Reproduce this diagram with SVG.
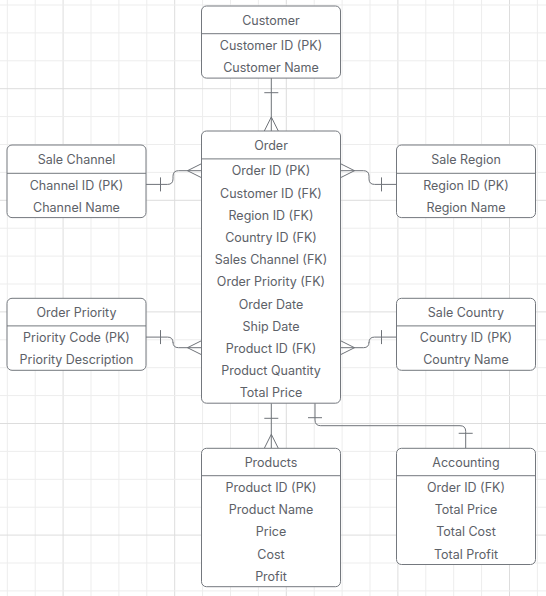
<svg xmlns="http://www.w3.org/2000/svg" width="546" height="596" viewBox="0 0 546 596">
<style>
.gmin{stroke:#ededed;stroke-width:1}
.gmaj{stroke:#dddddd;stroke-width:1}
.box{fill:#ffffff;stroke:#74787e;stroke-width:1}
.div{stroke:#74787e;stroke-width:1}
.t{font-family:"Inter","Liberation Sans",sans-serif;font-size:12.5px;fill:#5d6168;text-anchor:middle}
.c{fill:none;stroke:#6f7379;stroke-width:1}
</style>
<rect width="546" height="596" fill="#ffffff"/>
<g id="grid">
<path class="gmin" d="M7.3,0V596M35.2,0V596M91,0V596M118.9,0V596M146.8,0V596M202.6,0V596M230.5,0V596M258.4,0V596M314.2,0V596M342.1,0V596M370,0V596M425.8,0V596M453.7,0V596M481.6,0V596M537.4,0V596"/>
<path class="gmaj" d="M63.1,0V596M174.7,0V596M286.3,0V596M397.9,0V596M509.5,0V596"/>
<path class="gmin" d="M0,5H546M0,32.9H546M0,60.8H546M0,116.6H546M0,144.5H546M0,172.4H546M0,228.2H546M0,256.1H546M0,284H546M0,339.8H546M0,367.7H546M0,395.6H546M0,451.4H546M0,479.3H546M0,507.2H546M0,563H546M0,590.9H546"/>
<path class="gmaj" d="M0,88.7H546M0,200.3H546M0,311.9H546M0,423.5H546M0,535.1H546"/>
</g>
<g id="connectors">
<path class="c" d="M271.3,78.1V131"/>
<path class="c" d="M264.3,92.7H278.3"/>
<path class="c" d="M264.3,131L271.3,117L278.3,131"/>
<path class="c" d="M146,184.4H167.5Q173,184.4 173,178.9V176.2Q173,170.7 178.5,170.7H201.5"/>
<path class="c" d="M160.5,177.4V191.4"/>
<path class="c" d="M201.5,163.7L187.5,170.7L201.5,177.7"/>
<path class="c" d="M340.5,170.7H363.5Q369,170.7 369,176.2V178.9Q369,184.4 374.5,184.4H396.5"/>
<path class="c" d="M381.5,177.4V191.4"/>
<path class="c" d="M340.5,163.7L354.5,170.7L340.5,177.7"/>
<path class="c" d="M146,337.1H167.5Q173,337.1 173,342.6V342.2Q173,347.7 178.5,347.7H201.5"/>
<path class="c" d="M160.5,330.1V344.1"/>
<path class="c" d="M201.5,340.7L187.5,347.7L201.5,354.7"/>
<path class="c" d="M340.5,347.7H363.5Q369,347.7 369,342.2V342.6Q369,337.1 374.5,337.1H396.5"/>
<path class="c" d="M381.5,330.1V344.1"/>
<path class="c" d="M340.5,340.7L354.5,347.7L340.5,354.7"/>
<path class="c" d="M271.3,403.2V448.3"/>
<path class="c" d="M264.3,418.3H278.3"/>
<path class="c" d="M264.3,448.3L271.3,434.3L278.3,448.3"/>
<path class="c" d="M315,403.2V420Q315,425.7 320.7,425.7H460Q465.7,425.7 465.7,431.4V448.3"/>
<path class="c" d="M308,417.7H322"/>
<path class="c" d="M458.7,433.3H472.7"/>
</g>
<g id="customer">
<rect class="box" x="201.5" y="6" width="139" height="72.1" rx="5"/>
<line class="div" x1="201.5" y1="33.7" x2="340.5" y2="33.7"/>
<text class="t" x="271" y="25.1">Customer</text>
<text class="t" x="271" y="50.1">Customer ID (PK)</text>
<text class="t" x="271" y="72.3">Customer Name</text>
</g>
<g id="order">
<rect class="box" x="201.5" y="131" width="139" height="272.2" rx="5"/>
<line class="div" x1="201.5" y1="158.9" x2="340.5" y2="158.9"/>
<text class="t" x="271" y="150.2">Order</text>
<text class="t" x="271" y="175.4">Order ID (PK)</text>
<text class="t" x="271" y="197.6">Customer ID (FK)</text>
<text class="t" x="271" y="219.8">Region ID (FK)</text>
<text class="t" x="271" y="242">Country ID (FK)</text>
<text class="t" x="271" y="264.2">Sales Channel (FK)</text>
<text class="t" x="271" y="286.4">Order Priority (FK)</text>
<text class="t" x="271" y="308.6">Order Date</text>
<text class="t" x="271" y="330.8">Ship Date</text>
<text class="t" x="271" y="353">Product ID (FK)</text>
<text class="t" x="271" y="375.2">Product Quantity</text>
<text class="t" x="271" y="397.4">Total Price</text>
</g>
<g id="sale-channel">
<rect class="box" x="7" y="145" width="139" height="72.6" rx="5"/>
<line class="div" x1="7" y1="173.3" x2="146" y2="173.3"/>
<text class="t" x="76.5" y="164.3">Sale Channel</text>
<text class="t" x="76.5" y="189.5">Channel ID (PK)</text>
<text class="t" x="76.5" y="211.7">Channel Name</text>
</g>
<g id="sale-region">
<rect class="box" x="396.5" y="145" width="139" height="72.6" rx="5"/>
<line class="div" x1="396.5" y1="173.3" x2="535.5" y2="173.3"/>
<text class="t" x="466" y="164.3">Sale Region</text>
<text class="t" x="466" y="189.5">Region ID (PK)</text>
<text class="t" x="466" y="211.7">Region Name</text>
</g>
<g id="order-priority">
<rect class="box" x="7" y="298.3" width="139" height="72" rx="5"/>
<line class="div" x1="7" y1="325.9" x2="146" y2="325.9"/>
<text class="t" x="76.5" y="317.2">Order Priority</text>
<text class="t" x="76.5" y="342.2">Priority Code (PK)</text>
<text class="t" x="76.5" y="364.4">Priority Description</text>
</g>
<g id="sale-country">
<rect class="box" x="396.5" y="298.3" width="139" height="72" rx="5"/>
<line class="div" x1="396.5" y1="325.9" x2="535.5" y2="325.9"/>
<text class="t" x="466" y="317.2">Sale Country</text>
<text class="t" x="466" y="342.2">Country ID (PK)</text>
<text class="t" x="466" y="364.4">Country Name</text>
</g>
<g id="products">
<rect class="box" x="201.5" y="448.3" width="139" height="138.4" rx="5"/>
<line class="div" x1="201.5" y1="475.7" x2="340.5" y2="475.7"/>
<text class="t" x="271" y="467.1">Products</text>
<text class="t" x="271" y="491.9">Product ID (PK)</text>
<text class="t" x="271" y="514.1">Product Name</text>
<text class="t" x="271" y="536.3">Price</text>
<text class="t" x="271" y="558.5">Cost</text>
<text class="t" x="271" y="580.7">Profit</text>
</g>
<g id="accounting">
<rect class="box" x="396.5" y="448.3" width="139" height="116.2" rx="5"/>
<line class="div" x1="396.5" y1="475.7" x2="535.5" y2="475.7"/>
<text class="t" x="466" y="467.1">Accounting</text>
<text class="t" x="466" y="491.9">Order ID (FK)</text>
<text class="t" x="466" y="514.1">Total Price</text>
<text class="t" x="466" y="536.3">Total Cost</text>
<text class="t" x="466" y="558.5">Total Profit</text>
</g>
</svg>
